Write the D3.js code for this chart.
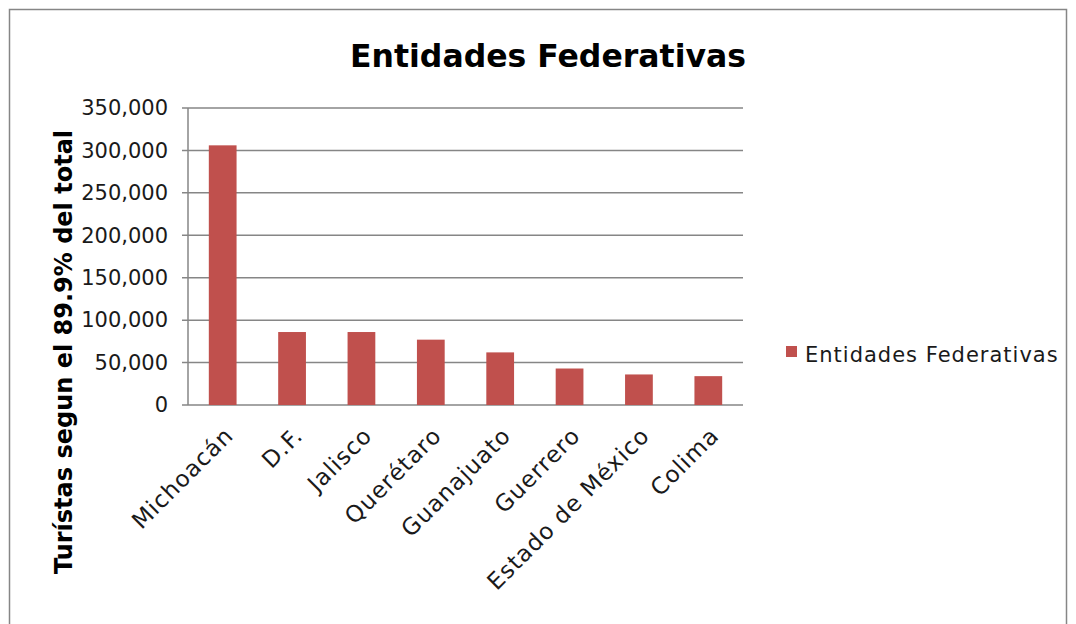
<!DOCTYPE html>
<html>
<head>
<meta charset="utf-8">
<script src="https://cdn.jsdelivr.net/npm/d3@7"></script>
<style>
  body { margin: 0; background: #fff; }
  text { font-family: "DejaVu Sans", sans-serif; }
</style>
</head>
<body>
<svg width="1076" height="624"></svg>
<script>
var entidades = ['Michoacán', 'D.F.', 'Jalisco', 'Querétaro', 'Guanajuato', 'Guerrero', 'Estado de México', 'Colima']
var turistas = [306000, 86000, 86000, 77000, 62000, 43000, 36000, 34000]
var yTicks = [0, 50000, 100000, 150000, 200000, 250000, 300000, 350000]
var serie = 'Entidades Federativas'

var svg = d3.select('svg')
var color = '#c0504d'
var gris = '#868686'
var texto = '#1a1a1a'

// borde del grafico
svg.append('rect')
   .attr('x', 9.5).attr('y', 9.5)
   .attr('width', 1057).attr('height', 640)
   .attr('fill', 'none')
   .attr('stroke', gris)
   .attr('stroke-width', 1.5)

var mLeft = 188, mRight = 743, mTop = 108, mBottom = 405

var x = d3.scaleBand()
          .domain(entidades)
          .range([mLeft, mRight])
          .paddingInner(0.6)
          .paddingOuter(0.3)

var y = d3.scaleLinear()
          .domain([0, 350000])
          .range([mBottom, mTop])

// lineas de cuadricula (con marca a la izquierda del eje)
svg.append('g')
   .selectAll('line')
   .data(yTicks)
   .enter()
   .append('line')
   .attr('x1', mLeft - 6)
   .attr('x2', mRight)
   .attr('y1', function(d){ return y(d) })
   .attr('y2', function(d){ return y(d) })
   .attr('stroke', gris)
   .attr('stroke-width', 1.5)

// eje vertical
svg.append('line')
   .attr('x1', mLeft).attr('x2', mLeft)
   .attr('y1', mTop).attr('y2', mBottom)
   .attr('stroke', gris)
   .attr('stroke-width', 1.5)

var yAxis = d3.axisLeft(y)
              .tickValues(yTicks)
              .tickFormat(d3.format(','))
              .tickSize(0)
              .tickPadding(20)

var gy = svg.append('g')
            .attr('transform', 'translate(' + mLeft + ',0)')
            .call(yAxis)
gy.select('.domain').remove()
gy.selectAll('text')
  .attr('font-size', 21)
  .attr('fill', texto)
  .style('font-family', '"DejaVu Sans", sans-serif')

// barras
svg.append('g')
   .selectAll('rect')
   .data(turistas)
   .enter()
   .append('rect')
   .attr('x', function(d, i){ return x(entidades[i]) })
   .attr('width', x.bandwidth())
   .attr('y', function(d){ return y(d) })
   .attr('height', function(d){ return mBottom - y(d) })
   .attr('fill', color)

// etiquetas del eje x
svg.append('g')
   .selectAll('text')
   .data(entidades)
   .enter()
   .append('text')
   .attr('transform', function(d){
       var cx = x(d) + x.bandwidth() / 2 + 12
       return 'translate(' + cx + ',' + (mBottom + 32) + ') rotate(-45)'
   })
   .attr('text-anchor', 'end')
   .attr('font-size', 23)
   .attr('letter-spacing', 1)
   .attr('fill', texto)
   .text(function(d){ return d })

// titulo
svg.append('text')
   .attr('x', 548).attr('y', 67)
   .attr('text-anchor', 'middle')
   .attr('font-size', 31.5)
   .attr('font-weight', 'bold')
   .text('Entidades Federativas')

// titulo eje y
svg.append('text')
   .attr('transform', 'translate(72,352) rotate(-90)')
   .attr('text-anchor', 'middle')
   .attr('font-size', 24)
   .attr('font-weight', 'bold')
   .text('Turístas segun el 89.9% del total')

// leyenda
svg.append('rect')
   .attr('x', 786).attr('y', 346)
   .attr('width', 11).attr('height', 11)
   .attr('fill', color)
svg.append('text')
   .attr('x', 805).attr('y', 362)
   .attr('font-size', 21)
   .attr('letter-spacing', 1)
   .attr('fill', texto)
   .text(serie)
</script>
</body>
</html>
